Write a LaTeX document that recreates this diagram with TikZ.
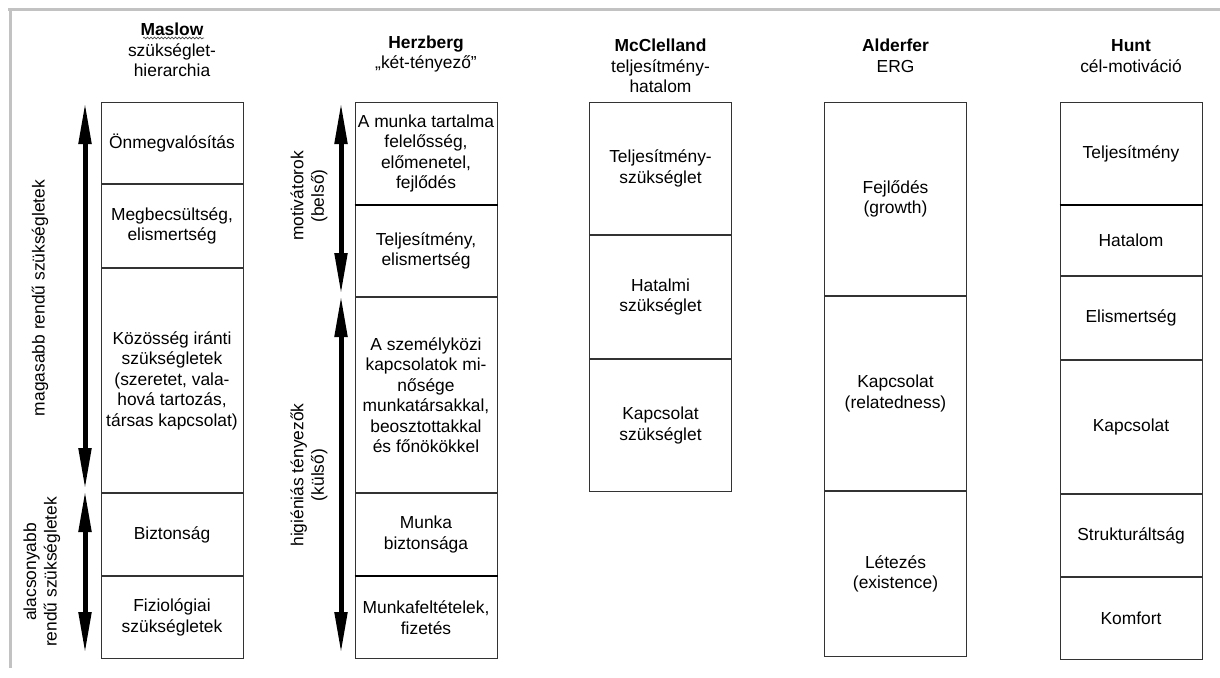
\documentclass[tikz,border=0pt]{standalone}
\usepackage{fontspec}
\setmainfont{Liberation Sans}
\usetikzlibrary{arrows.meta,decorations.pathmorphing}
\begin{document}
\begin{tikzpicture}[x=1pt,y=-1pt,
  txt/.style={font=\fontsize{17.4}{20.5}\selectfont, align=center, inner sep=0pt},
  cell/.style={txt, draw=black!80, line width=1pt, minimum width=142pt, anchor=north},
  hdr/.style={txt, anchor=center},
  thickline/.style={draw=black, line width=2.4pt},
  dblarrow/.style={line width=5pt, {Triangle[length=42pt,width=12pt]}-{Triangle[length=42pt,width=12pt]}},
  framel/.style={draw=black!24, line width=3pt},
  sidelab/.style={txt, rotate=90}
]
\useasboundingbox (0,0) rectangle (1220,677);
\draw[framel] (8,10) -- (1220,10);
\draw[framel] (10,10) -- (10,668);

% headers
\node[hdr] (hm) at (172,50) {\textbf{Maslow}\\szükséglet-\\hierarchia};
\draw[black!70, line width=0.7pt, decorate, decoration={snake, amplitude=0.9pt, segment length=3.5pt}] (143,38) -- (204,38);
\node[hdr] (hh) at (426,54) {\textbf{Herzberg}\\„két-tényező”};
\node[hdr] (hc) at (660.5,66) {\textbf{McClelland}\\teljesítmény-\\hatalom};
\node[hdr] (ha) at (895.5,56) {\textbf{Alderfer}\\ERG};
\node[hdr] (hu) at (1131,56) {\textbf{Hunt}\\cél-motiváció};

% Maslow
\node[cell, minimum height=81pt] (m1) at (172,102) {Önmegvalósítás};
\node[cell, minimum height=83pt] (m2) at (m1.south) {Megbecsültség,\\elismertség};
\node[cell, minimum height=224pt] (m3) at (m2.south) {Közösség iránti\\szükségletek\\(szeretet, vala-\\hová tartozás,\\társas kapcsolat)};
\node[cell, minimum height=82pt] (m4) at (m3.south) {Biztonság};
\node[cell, minimum height=82pt] (m5) at (m4.south) {Fiziológiai\\szükségletek};

% Herzberg
\node[cell, minimum height=102pt] (z1) at (426,102) {A munka tartalma\\felelősség,\\előmenetel,\\fejlődés};
\node[cell, minimum height=91pt] (z2) at (z1.south) {Teljesítmény,\\elismertség};
\node[cell, minimum height=195pt] (z3) at (z2.south) {A személyközi\\kapcsolatok mi-\\nősége\\munkatársakkal,\\beosztottakkal\\és főnökökkel};
\node[cell, minimum height=82pt] (z4) at (z3.south) {Munka\\biztonsága};
\node[cell, minimum height=82pt] (z5) at (z4.south) {Munkafeltételek,\\fizetés};
\draw[thickline] (z1.south west) -- (z1.south east);
\draw[thickline] (z4.south west) -- (z4.south east);

% McClelland
\node[cell, minimum height=132pt] (c1) at (660.5,102) {Teljesítmény-\\szükséglet};
\node[cell, minimum height=123pt] (c2) at (c1.south) {Hatalmi\\szükséglet};
\node[cell, minimum height=132pt] (c3) at (c2.south) {Kapcsolat\\szükséglet};

% Alderfer
\node[cell, minimum height=193pt] (a1) at (895.5,102) {Fejlődés\\(growth)};
\node[cell, minimum height=194pt] (a2) at (a1.south) {Kapcsolat\\(relatedness)};
\node[cell, minimum height=165pt] (a3) at (a2.south) {Létezés\\(existence)};

% Hunt
\node[cell, minimum height=102pt] (u1) at (1131,102) {Teljesítmény};
\node[cell, minimum height=70pt] (u2) at (u1.south) {Hatalom};
\node[cell, minimum height=83pt] (u3) at (u2.south) {Elismertség};
\node[cell, minimum height=133pt] (u4) at (u3.south) {Kapcsolat};
\node[cell, minimum height=82pt] (u5) at (u4.south) {Strukturáltság};
\node[cell, minimum height=82pt] (u6) at (u5.south) {Komfort};
\draw[thickline] (u1.south west) -- (u1.south east);

% arrows
\coordinate (ma1) at (85,102);
\coordinate (ma2) at (85,490);
\coordinate (ma3) at (85,654);
\draw[dblarrow] (ma1) -- (ma2);
\draw[dblarrow] (ma2) -- (ma3);
\coordinate (za1) at (341,102);
\coordinate (za2) at (341,295);
\coordinate (za3) at (341,654);
\draw[dblarrow] (za1) -- (za2);
\draw[dblarrow] (za2) -- (za3);

% side labels
\node[sidelab] (lm1) at (40,298) {magasabb rendű szükségletek};
\node[sidelab] (lm2) at (42,572) {alacsonyabb\\rendű szükségletek};
\node[sidelab] (lz1) at (309,196) {motivátorok\\(belső)};
\node[sidelab] (lz2) at (309,475) {higiéniás tényezők\\(külső)};
\end{tikzpicture}
\end{document}
